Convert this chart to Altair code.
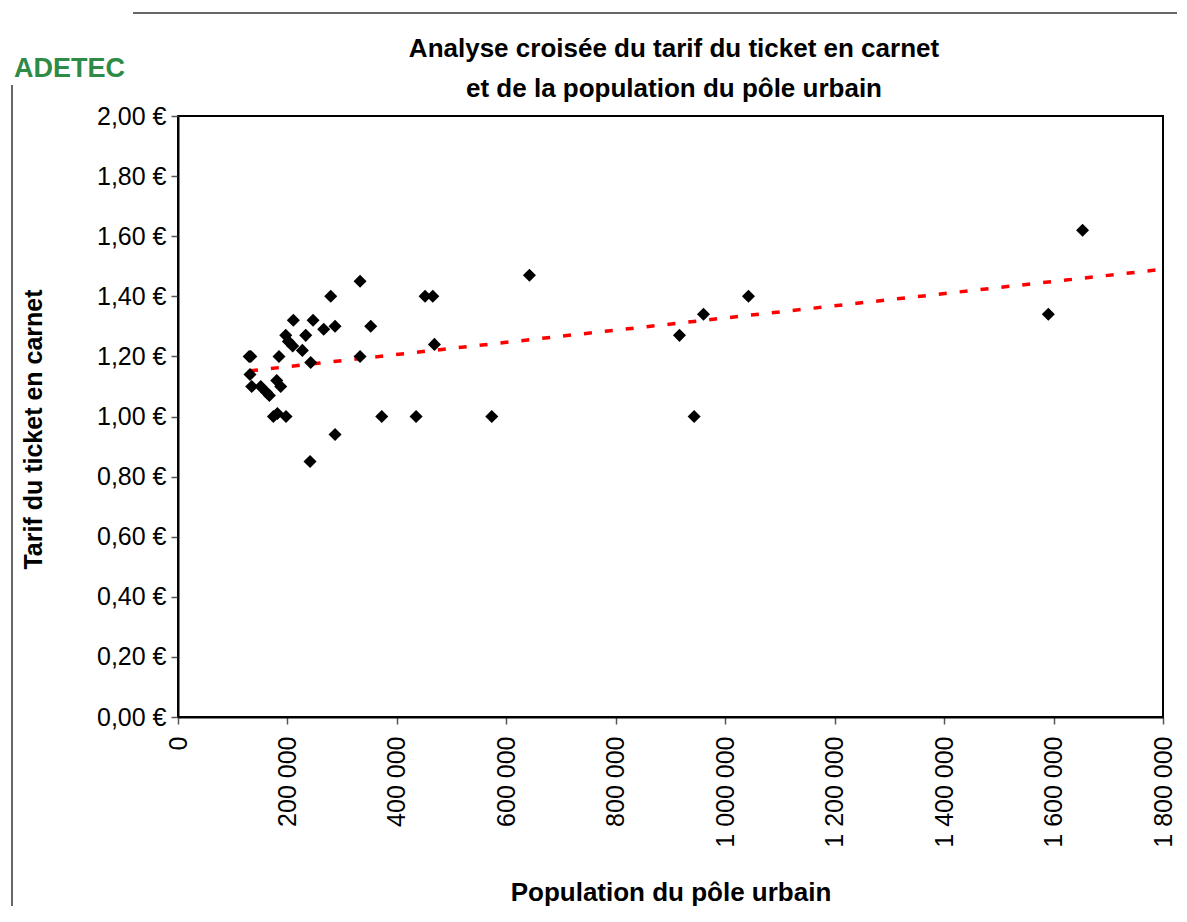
import altair as alt
import pandas as pd

# Population du pôle urbain / Tarif du ticket en carnet (€)
population = [130000, 133000, 131600, 134700, 151200, 162000, 167000, 180400, 187700,
              174300, 181600, 197400, 184600, 196900, 201700, 209600, 210800, 227300,
              233400, 242500, 246800, 241300, 266300, 279100, 287000, 287000, 332700,
              332700, 352200, 372300, 435100, 451500, 465600, 468600, 573400, 642200,
              916400, 943200, 960300, 1042500, 1590400, 1653000]
tarif = [1.20, 1.20, 1.14, 1.10, 1.10, 1.08, 1.07, 1.12, 1.10,
         1.00, 1.01, 1.00, 1.20, 1.27, 1.25, 1.235, 1.32, 1.22,
         1.27, 1.18, 1.32, 0.85, 1.29, 1.40, 1.30, 0.94, 1.45,
         1.20, 1.30, 1.00, 1.00, 1.40, 1.40, 1.24, 1.00, 1.47,
         1.27, 1.00, 1.34, 1.40, 1.34, 1.62]

# Linear trend line endpoints
trend_x = [131600, 1800000]
trend_y = [1.152, 1.49]

x_ticks = [0, 200000, 400000, 600000, 800000, 1000000, 1200000, 1400000, 1600000, 1800000]
y_ticks = [0, 0.2, 0.4, 0.6, 0.8, 1.0, 1.2, 1.4, 1.6, 1.8, 2.0]

title_lines = ["Analyse croisée du tarif du ticket en carnet",
               "et de la population du pôle urbain"]

pts = pd.DataFrame({"pop": population, "tarif": tarif})
trend = pd.DataFrame({"pop": trend_x, "tarif": trend_y})

FONT = "Liberation Sans"

x_enc = alt.X(
    "pop:Q",
    scale=alt.Scale(domain=[0, 1800000], nice=False, zero=True),
    axis=alt.Axis(
        values=x_ticks,
        labelAngle=-90,
        labelExpr="join(split(format(datum.value, ','), ','), ' ')",
        labelFontSize=25,
        labelFont=FONT,
        labelColor="black",
        labelPadding=12,
        tickSize=7,
        tickColor="#555555",
        tickWidth=1.5,
        domainColor="black",
        domainWidth=2,
        grid=False,
        title="Population du pôle urbain",
        titleFont=FONT,
        titleFontSize=26,
        titleFontWeight="bold",
        titleColor="black",
        titleY=188,
        titleBaseline="bottom",
    ),
)
y_enc = alt.Y(
    "tarif:Q",
    scale=alt.Scale(domain=[0, 2.0], nice=False),
    axis=alt.Axis(
        values=y_ticks,
        labelExpr="replace(format(datum.value, '.2f'), '.', ',') + ' €'",
        labelFontSize=25,
        labelFont=FONT,
        labelColor="black",
        labelPadding=5,
        tickSize=7,
        tickColor="#555555",
        tickWidth=1.5,
        domainColor="black",
        domainWidth=2,
        grid=False,
        title="Tarif du ticket en carnet",
        titleFont=FONT,
        titleFontSize=25,
        titleFontWeight="bold",
        titleColor="black",
        titleAngle=270,
        titleX=-145,
        titleY=313,
        titleAlign="center",
        titleBaseline="middle",
    ),
)

points = alt.Chart(pts).mark_point(
    shape="diamond", filled=True, color="black", size=170, opacity=1
).encode(x=x_enc, y=y_enc)

trend_line = alt.Chart(trend).mark_line(
    color="#ff0000", strokeWidth=3.5, strokeDash=[8, 13]
).encode(x="pop:Q", y="tarif:Q")

# chart title (two lines)
title1 = alt.Chart(pd.DataFrame({"t": [title_lines[0]]})).mark_text(
    font=FONT, fontSize=26, fontWeight="bold", color="black",
    align="center", baseline="alphabetic"
).encode(text="t:N", x=alt.value(496), y=alt.value(-59))
title2 = alt.Chart(pd.DataFrame({"t": [title_lines[1]]})).mark_text(
    font=FONT, fontSize=26, fontWeight="bold", color="black",
    align="center", baseline="alphabetic"
).encode(text="t:N", x=alt.value(496), y=alt.value(-19))

# decorative page frame and logo text
frame_top = alt.Chart(pd.DataFrame({"a": [0]})).mark_rule(
    color="#333333", strokeWidth=1.5
).encode(x=alt.value(-45), x2=alt.value(1005), y=alt.value(-103))
frame_left = alt.Chart(pd.DataFrame({"a": [0]})).mark_rule(
    color="#333333", strokeWidth=1.5
).encode(x=alt.value(-166), y=alt.value(-31), y2=alt.value(790))
logo = alt.Chart(pd.DataFrame({"t": ["ADETEC"]})).mark_text(
    font=FONT, fontSize=27, fontWeight="bold", color="#2e8b46",
    align="left", baseline="bottom"
).encode(text="t:N", x=alt.value(-164), y=alt.value(-33))

chart = alt.layer(frame_top, frame_left, logo, title1, title2, trend_line, points).properties(
    width=985,
    height=601,
    autosize=alt.AutoSizeParams(type="none"),
    padding={"left": 170, "top": 108, "right": 14, "bottom": 190},
).configure_view(stroke="black", strokeWidth=2)

chart.save("out.html", embed_options={"renderer": "svg", "actions": False})
